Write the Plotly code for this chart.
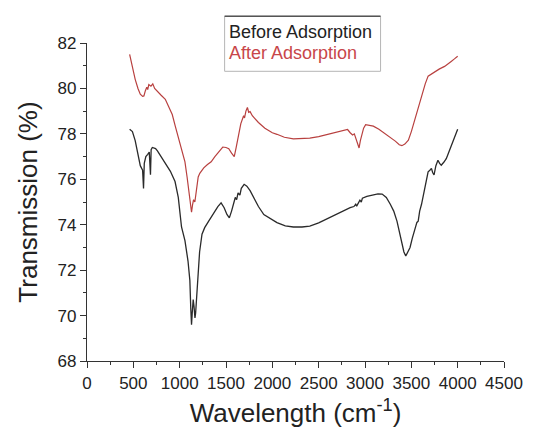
import plotly.graph_objects as go

# ---- data ----
before_x = [460, 490, 520, 550, 575, 600, 610, 618, 635, 655, 672, 685, 692, 705, 720, 740, 760, 800, 850, 900,
            950, 985, 1020, 1057, 1090, 1110, 1120, 1128, 1137, 1146, 1155, 1165, 1172, 1185, 1199, 1215, 1241,
            1270, 1320, 1370, 1412, 1447, 1480, 1510, 1536, 1560, 1585, 1600, 1615, 1630, 1650, 1665, 1696, 1725,
            1760, 1802, 1850, 1908, 1980, 2050, 2140, 2227, 2320, 2404, 2500, 2582, 2680, 2760, 2840, 2880, 2900,
            2910, 2930, 2945, 2960, 2972, 3020, 3079, 3140, 3185, 3230, 3273, 3310, 3345, 3375, 3398, 3420, 3440,
            3460, 3486, 3510, 3539, 3560, 3574, 3590, 3610, 3628, 3646, 3665, 3681, 3700, 3717, 3730, 3745, 3765,
            3787, 3805, 3823, 3850, 3877, 3900, 3930, 3965, 4000]
before_y = [78.2, 78.1, 77.7, 77.1, 76.6, 76.4, 75.6, 76.7, 77.0, 77.1, 77.2, 76.2, 77.3, 77.4, 77.38, 77.35,
            77.25, 77.0, 76.7, 76.35, 75.9, 75.2, 73.9, 73.3, 72.4, 71.55, 70.3, 69.6, 70.2, 70.7, 70.4, 69.9,
            70.1, 70.8, 71.6, 72.8, 73.58, 73.87, 74.2, 74.55, 74.8, 74.96, 74.75, 74.45, 74.3, 74.6, 74.95, 75.2,
            75.1, 75.4, 75.3, 75.6, 75.78, 75.7, 75.5, 75.17, 74.8, 74.45, 74.25, 74.09, 73.95, 73.9, 73.9, 73.94,
            74.08, 74.25, 74.45, 74.6, 74.75, 74.8, 74.9, 74.82, 75.0, 75.08, 75.0, 75.17, 75.25, 75.32, 75.36,
            75.35, 75.2, 74.9, 74.6, 74.16, 73.6, 73.14, 72.8, 72.62, 72.8, 73.0, 73.4, 73.87, 74.1, 74.16, 74.6,
            74.9, 75.3, 75.6, 76.0, 76.33, 76.4, 76.48, 76.3, 76.19, 76.6, 76.84, 76.7, 76.62, 76.75, 76.91, 77.15,
            77.49, 77.85, 78.2]

after_x = [460, 490, 520, 550, 575, 600, 614, 630, 645, 655, 667, 690, 710, 730, 760, 800, 845, 880, 920, 951,
           990, 1020, 1057, 1080, 1100, 1115, 1128, 1140, 1150, 1164, 1180, 1200, 1217, 1260, 1300, 1340, 1380,
           1420, 1465, 1500, 1530, 1560, 1589, 1610, 1640, 1660, 1690, 1700, 1715, 1731, 1745, 1760, 1784, 1850,
           1920, 2000, 2050, 2130, 2227, 2320, 2404, 2500, 2582, 2680, 2760, 2812, 2840, 2866, 2885, 2901, 2920,
           2936, 2950, 2965, 2985, 3007, 3050, 3090, 3150, 3220, 3280, 3327, 3370, 3398, 3430, 3468, 3500, 3539,
           3575, 3610, 3650, 3681, 3720, 3752, 3800, 3859, 3900, 3930, 3965, 4000]
after_y = [81.5, 80.9, 80.4, 80.0, 79.75, 79.65, 79.67, 79.9, 80.05, 79.95, 80.17, 80.1, 80.2, 80.0, 79.85, 79.7,
           79.52, 79.2, 78.85, 78.36, 77.8, 77.3, 76.77, 76.1, 75.4, 74.9, 74.55, 74.9, 75.1, 75.0, 75.5, 76.1,
           76.26, 76.5, 76.65, 76.77, 77.0, 77.2, 77.42, 77.4, 77.35, 77.15, 77.0, 77.4, 78.0, 78.45, 78.8, 78.7,
           79.0, 79.16, 78.95, 78.98, 78.8, 78.5, 78.25, 78.05, 77.98, 77.85, 77.78, 77.78, 77.81, 77.88, 77.96,
           78.05, 78.12, 78.19, 78.05, 77.95, 78.0, 77.78, 77.6, 77.38, 77.7, 77.95, 78.25, 78.4, 78.38, 78.34,
           78.2, 78.0, 77.85, 77.68, 77.52, 77.48, 77.55, 77.72, 78.1, 78.65, 79.2, 79.67, 80.2, 80.54, 80.65,
           80.75, 80.85, 80.97, 81.08, 81.19, 81.3, 81.42]

series_names = ["Before Adsorption", "After Adsorption"]
x_ticks = [0, 500, 1000, 1500, 2000, 2500, 3000, 3500, 4000, 4500]
y_ticks = [68, 70, 72, 74, 76, 78, 80, 82]

BLACK = "#2a2a2a"
RED = "#b8403f"
FONT = "Liberation Sans, Arial, sans-serif"

fig = go.Figure()
fig.add_trace(go.Scatter(x=before_x, y=before_y, mode="lines", name=series_names[0],
                         line=dict(color=BLACK, width=1.3), showlegend=False))
fig.add_trace(go.Scatter(x=after_x, y=after_y, mode="lines", name=series_names[1],
                         line=dict(color=RED, width=1.2), showlegend=False))

axis_common = dict(showline=True, linecolor="#333333", linewidth=1.3, showgrid=False, zeroline=False,
                   ticks="outside", ticklen=6, tickwidth=1.2, tickcolor="#333333",
                   tickfont=dict(family=FONT, size=17, color="#222222"), mirror=False)

fig.update_xaxes(range=[0, 4500], tickvals=x_ticks, ticktext=[str(v) for v in x_ticks],
                 minor=dict(dtick=250, tick0=0, ticklen=3, tickwidth=1, tickcolor="#333333", ticks="outside"),
                 title=dict(text="Wavelength (cm<sup>-1</sup>)", font=dict(family=FONT, size=26, color="#222222"),
                            standoff=12),
                 **axis_common)
fig.update_yaxes(range=[68, 82], tickvals=y_ticks, ticktext=[str(v) for v in y_ticks],
                 minor=dict(dtick=1, tick0=68, ticklen=3, tickwidth=1, tickcolor="#333333", ticks="outside"),
                 title=dict(text="Transmission (%)", font=dict(family=FONT, size=26, color="#222222"),
                            standoff=12),
                 **axis_common)

# legend box (drawn as shapes + text, the original legend shows text only)
fig.add_shape(type="rect", xref="paper", yref="paper", x0=0.33, x1=0.704, y0=0.911, y1=1.084,
              line=dict(color="#b5b5b5", width=1), fillcolor="rgba(0,0,0,0)")
fig.add_shape(type="line", xref="paper", yref="paper", x0=0.33, x1=0.704, y0=1.084, y1=1.084,
              line=dict(color="#555555", width=1.6))
fig.add_annotation(xref="paper", yref="paper", x=0.336, y=1.035, xanchor="left", yanchor="middle",
                   text=series_names[0], showarrow=False, font=dict(family=FONT, size=18, color="#222222"))
fig.add_annotation(xref="paper", yref="paper", x=0.336, y=0.970, xanchor="left", yanchor="middle",
                   text=series_names[1], showarrow=False, font=dict(family=FONT, size=18, color="#c8464a"))

fig.update_layout(width=535, height=435, margin=dict(l=87, r=25, t=43, b=70),
                  plot_bgcolor="white", paper_bgcolor="white", showlegend=False)

fig.write_html("out.html")
